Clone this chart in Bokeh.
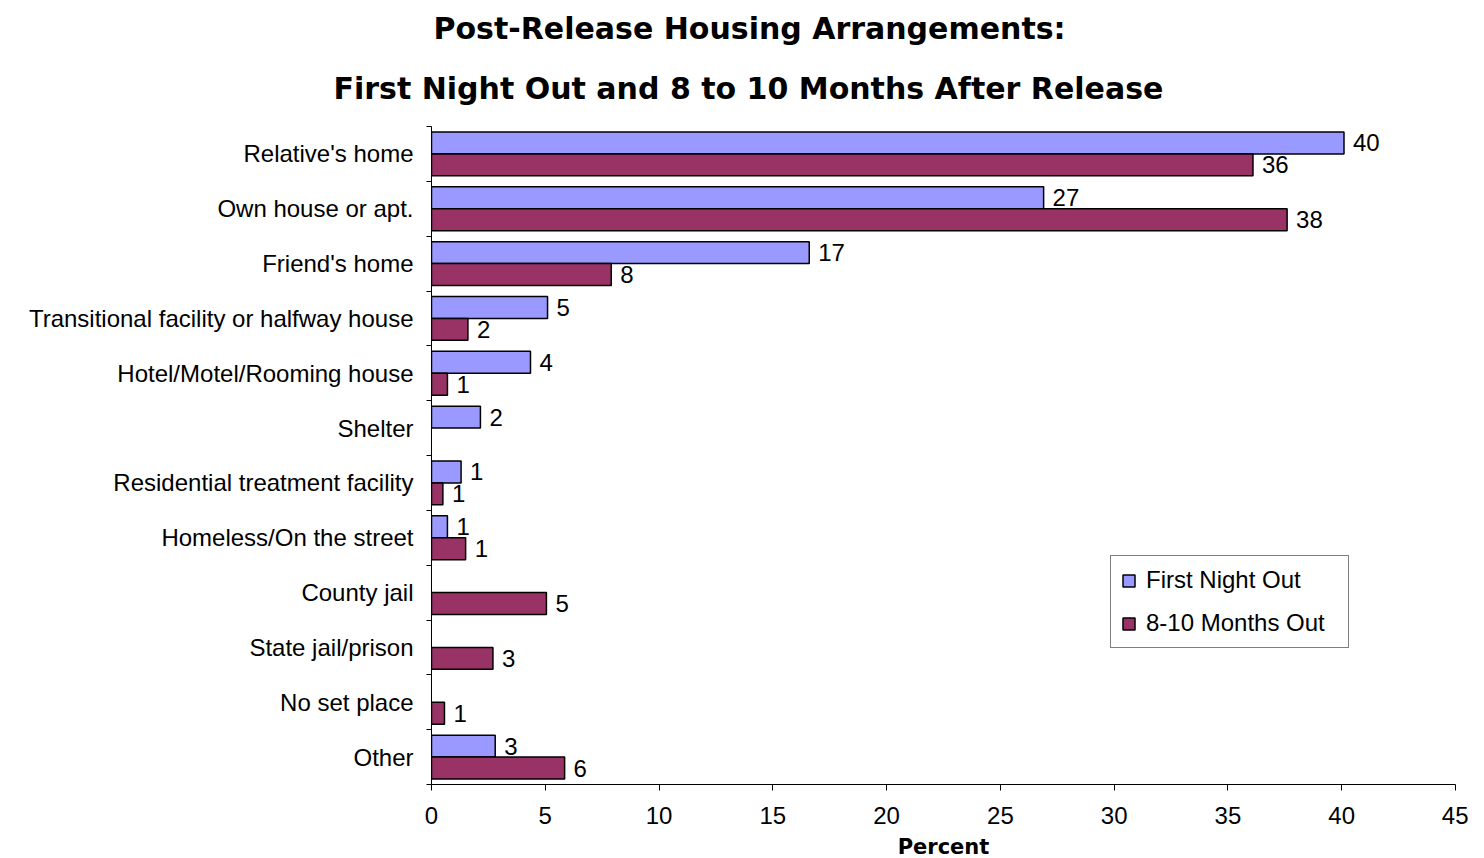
from bokeh.plotting import figure
from bokeh.models import (ColumnDataSource, Range1d, FixedTicker, Legend, LegendItem, Title, LabelSet)
from bokeh.core.properties import value
from bokeh.embed import file_html
from bokeh.resources import INLINE

categories = ["Relative's home", "Own house or apt.", "Friend's home",
              "Transitional facility or halfway house", "Hotel/Motel/Rooming house",
              "Shelter", "Residential treatment facility", "Homeless/On the street",
              "County jail", "State jail/prison", "No set place", "Other"]
first_night = [40.1, 26.9, 16.6, 5.1, 4.35, 2.15, 1.3, 0.7, None, None, None, 2.8]
first_night_labels = ["40", "27", "17", "5", "4", "2", "1", "1", None, None, None, "3"]
months_out = [36.1, 37.6, 7.9, 1.6, 0.7, None, 0.5, 1.5, 5.05, 2.7, 0.57, 5.85]
months_out_labels = ["36", "38", "8", "2", "1", None, "1", "1", "5", "3", "1", "6"]
x_ticks = [0, 5, 10, 15, 20, 25, 30, 35, 40, 45]
title_lines = ["Post-Release Housing Arrangements:",
               "First Night Out and 8 to 10 Months After Release"]

BLUE = "#9999FF"
RED = "#993366"
FONT = "Liberation Sans"
FS = "24px"
TFONT = "DejaVu Sans"

def make_source(vals, labels, offset):
    ys, xs, ls = [], [], []
    for i, (v, l) in enumerate(zip(vals, labels)):
        if v is None:
            continue
        ys.append(i + offset)
        xs.append(v)
        ls.append(l)
    return ColumnDataSource(dict(y=ys, right=xs, label=ls))

src_blue = make_source(first_night, first_night_labels, -0.2)
src_red = make_source(months_out, months_out_labels, 0.2)

n = len(categories)
p = figure(frame_width=1024, frame_height=658, output_backend="svg", toolbar_location=None,
           x_range=Range1d(0, 45), y_range=Range1d(n - 0.5, -0.5),
           min_border_left=431, min_border_top=126, min_border_right=13, min_border_bottom=40)
p.outline_line_color = None
p.xgrid.visible = False
p.ygrid.visible = False

rb = p.hbar(y="y", right="right", left=0, height=0.4, source=src_blue,
            fill_color=BLUE, line_color="black", line_width=1.5)
rr = p.hbar(y="y", right="right", left=0, height=0.4, source=src_red,
            fill_color=RED, line_color="black", line_width=1.5)

for src in (src_blue, src_red):
    p.add_layout(LabelSet(x="right", y="y", text="label", source=src, x_offset=9,
                          text_baseline="middle", text_align="left",
                          text_font=value(FONT), text_font_size=value(FS),
                          text_color=value("black")))

# x axis
xa = p.xaxis[0]
xa.ticker = FixedTicker(ticks=x_ticks)
xa.major_tick_out = 6
xa.major_tick_in = 0
xa.minor_tick_out = 0
xa.minor_tick_in = 0
xa.axis_line_color = "black"
xa.major_tick_line_color = "black"
xa.major_label_text_font = FONT
xa.major_label_text_font_size = FS
xa.major_label_text_color = "black"
xa.major_label_standoff = 16
xa.axis_label = "Percent"
xa.axis_label_text_font = TFONT
xa.axis_label_text_font_style = "bold"
xa.axis_label_text_font_size = "21px"
xa.axis_label_text_color = "black"
xa.axis_label_standoff = 8

# y axis
ya = p.yaxis[0]
ya.ticker = FixedTicker(ticks=list(range(n)), minor_ticks=[i - 0.5 for i in range(n + 1)])
ya.major_label_overrides = {i: c for i, c in enumerate(categories)}
ya.major_tick_out = 0
ya.major_tick_in = 0
ya.minor_tick_out = 5
ya.minor_tick_in = 0
ya.axis_line_color = "black"
ya.minor_tick_line_color = "black"
ya.major_label_text_font = FONT
ya.major_label_text_font_size = FS
ya.major_label_text_color = "black"
ya.major_label_standoff = 13

legend = Legend(items=[LegendItem(label="First Night Out", renderers=[rb]),
                       LegendItem(label="8-10 Months Out", renderers=[rr])],
                location=(679, 136), orientation="vertical",
                label_text_font=FONT, label_text_font_size=FS, label_text_color="black",
                glyph_width=15, glyph_height=15, label_standoff=10, padding=10, spacing=15,
                label_height=20, label_width=192, margin=0,
                border_line_color="black", border_line_width=1, background_fill_color="white",
                background_fill_alpha=1)
p.add_layout(legend, "center")

# two-line title (first added sits closest to the plot)
t2 = Title(text=title_lines[1], align="left", offset=-98, standoff=42,
           text_font=TFONT, text_font_style="bold", text_font_size="30px", text_color="black")
t1 = Title(text=title_lines[0], align="left", offset=2, standoff=4,
           text_font=TFONT, text_font_style="bold", text_font_size="30px", text_color="black")
p.add_layout(t2, "above")
p.add_layout(t1, "above")

open("out.html", "w").write(file_html(p, INLINE))
